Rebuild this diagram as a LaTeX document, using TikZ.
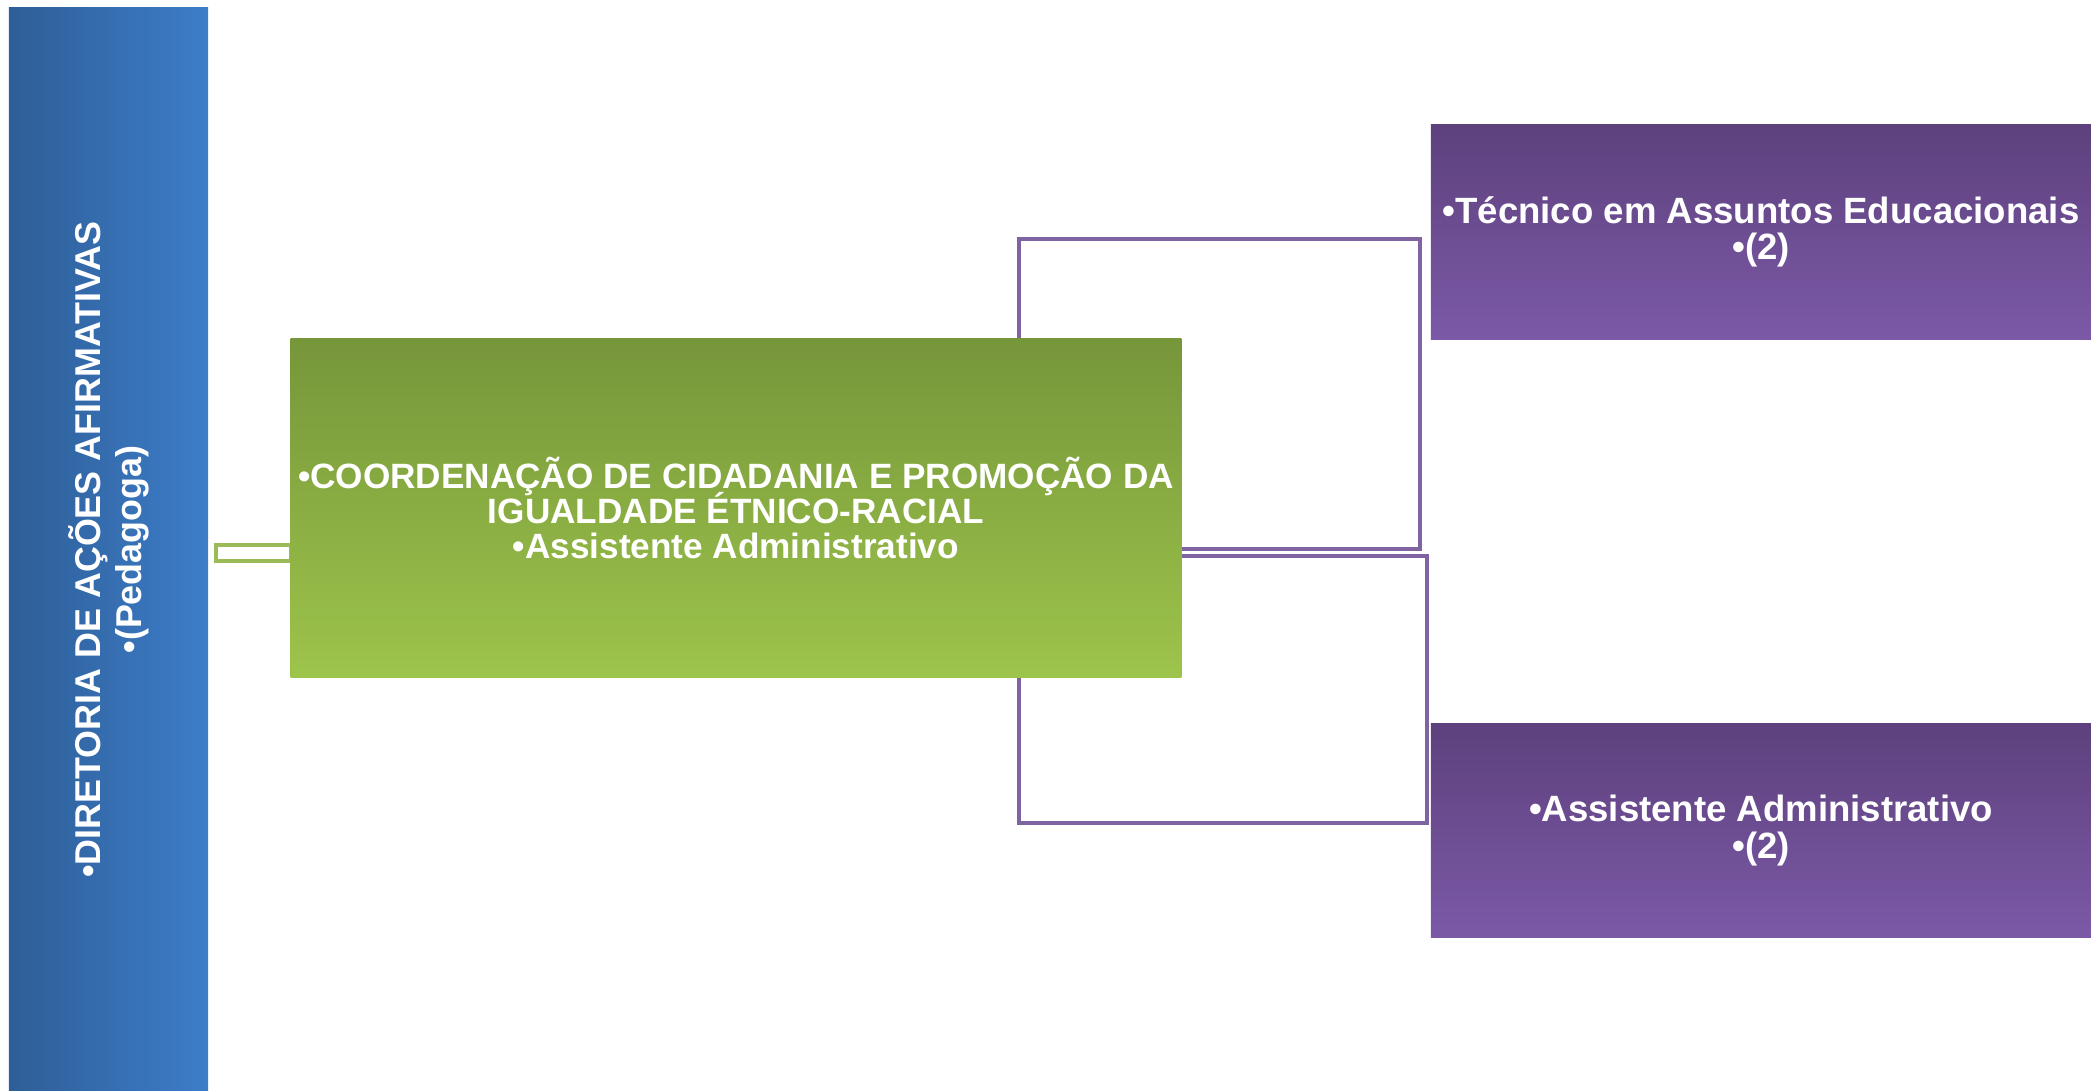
\documentclass[tikz,border=0pt]{standalone}
\usepackage{fontspec}
\setmainfont{Liberation Sans}
\usetikzlibrary{positioning}
\definecolor{dirL}{HTML}{2E5E96}
\definecolor{dirR}{HTML}{3D7DCA}
\definecolor{coordT}{HTML}{76963A}
\definecolor{coordB}{HTML}{9DC44B}
\definecolor{cargoT}{HTML}{5D417D}
\definecolor{cargoB}{HTML}{7C59A7}
\definecolor{lineG}{HTML}{9BBB59}
\definecolor{lineP}{HTML}{8064A2}
\setlength{\lineskiplimit}{-\maxdimen}
\tikzset{
  box/.style={rectangle, inner sep=0pt, text=white, align=center,
    font=\bfseries\fontsize{10pt}{10pt}\selectfont},
  dirbox/.style={box, rotate=90, left color=dirL, right color=dirR,
    minimum width=10.83cm, minimum height=1.99cm,
    font=\bfseries\fontsize{10.2pt}{11.6pt}\selectfont},
  coordbox/.style={box, top color=coordT, bottom color=coordB,
    minimum width=8.9cm, minimum height=3.38cm},
  cargobox/.style={box, top color=cargoT, bottom color=cargoB,
    minimum width=6.6cm, minimum height=2.14cm,
    font=\bfseries\fontsize{10.4pt}{10.4pt}\selectfont},
  glink/.style={draw=lineG, line width=1.2pt, fill=white},
  plink/.style={draw=lineP, line width=1pt}
}
\begin{document}
\begin{tikzpicture}[x=0.01cm, y=-0.01cm]
  \useasboundingbox (0,0) rectangle (2091,1091);
  %connectors
  \coordinate (g1) at (216,545);
  \coordinate (g2) at (291,561);
  \coordinate (p1a) at (1019,239);
  \coordinate (p1b) at (1420,549);
  \coordinate (p2a) at (1019,556);
  \coordinate (p2b) at (1427,823);
  \path [glink] (g1) rectangle (g2);
  \path [plink] (p1a) rectangle (p1b);
  \path [plink] (p2a) rectangle (p2b);
  %boxes
  \node[dirbox] (dir) at (108.5,549.5) {•DIRETORIA DE AÇÕES AFIRMATIVAS\\•(Pedagoga)};
  \node[coordbox] (coord) at (736,508) {•COORDENAÇÃO DE CIDADANIA E PROMOÇÃO DA\\IGUALDADE ÉTNICO-RACIAL\\•Assistente Administrativo};
  \node[cargobox] (tec) at (1761,232) {•Técnico em Assuntos Educacionais\\•(2)};
  \node[cargobox] (adm) at (1761,830.5) {•Assistente Administrativo\\•(2)};
\end{tikzpicture}
\end{document}
